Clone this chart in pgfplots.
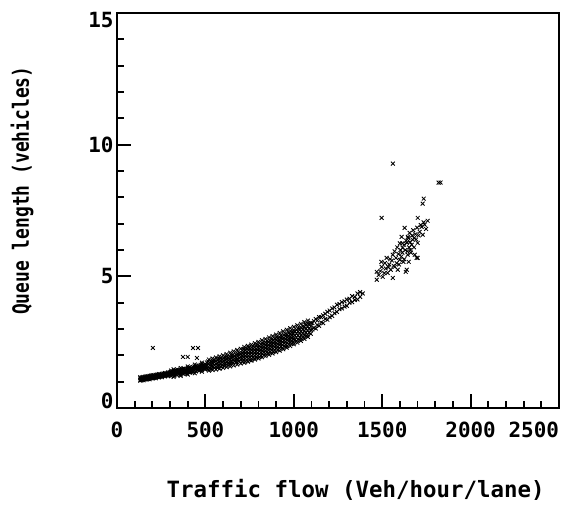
\documentclass[border=0pt]{standalone}
\usepackage{pgfplots}
\pgfplotsset{compat=1.18}
\usepackage{fontspec}
\setmainfont{DejaVu Sans Mono}
\begin{document}
\begin{tikzpicture}
\useasboundingbox (-117bp,-98bp) rectangle (450bp,408bp);
\begin{axis}[
  at={(0,0)}, anchor=south west,
  scale only axis, width=442bp, height=395bp,
  xmin=0, xmax=2500, ymin=0, ymax=15,
  xtick={0,500,1000,1500,2000,2500},
  xticklabels={0,500,1000,1500,2000,\llap{2500}},
  ytick={0,5,10,15},
  yticklabels={\smash{0},5,10,\raisebox{-14.6bp}[0pt][0pt]{15}},
  minor x tick num=4, minor y tick num=4,
  xtick pos=lower, ytick pos=left,
  tick align=inside,
  major tick length=14bp, minor tick length=7bp,
  every tick/.style={black, line width=1.8bp},
  axis line style={line width=2.2bp},
  scaled ticks=false,
  /pgf/number format/assume math mode=true,
  /pgf/number format/set thousands separator={},
  tick label style={font=\fontsize{21}{25}\selectfont\bfseries},
  xticklabel style={yshift=-10bp},
  xlabel={\fontsize{22.5}{26}\selectfont\bfseries Traffic flow (Veh/hour/lane)},
  ylabel={\scalebox{0.8}[1]{\fontsize{22.5}{26}\selectfont\bfseries Queue length (vehicles)}},
  xlabel style={at={(axis description cs:0.54,-0.208)}, anchor=center},
  ylabel style={at={(axis description cs:-0.215,0.55)}, anchor=center},
]
\addplot[only marks, mark=x, mark size=2.7bp, color=black, mark options={line width=0.85bp}] coordinates {
(132,1.04)(132,1.08)(132,1.13)(132,1.17)(141,1.06)(141,1.11)(141,1.16)
(150,1.05)(150,1.09)(150,1.13)(150,1.18)(158,1.09)(158,1.15)(158,1.19)
(167,1.08)(167,1.12)(167,1.17)(167,1.21)(175,1.10)(175,1.15)(175,1.20)
(184,1.09)(184,1.13)(184,1.17)(184,1.22)(193,1.13)(193,1.19)(193,1.23)
(201,1.12)(201,1.16)(201,1.21)(201,1.25)(210,1.14)(210,1.19)(210,1.24)
(219,1.13)(219,1.17)(219,1.21)(219,1.26)(228,1.17)(228,1.23)(228,1.27)
(236,1.16)(236,1.20)(236,1.25)(236,1.29)(245,1.18)(245,1.23)(245,1.28)
(254,1.17)(254,1.21)(254,1.25)(254,1.30)(263,1.21)(263,1.27)(263,1.31)
(271,1.20)(271,1.24)(271,1.29)(271,1.33)(280,1.22)(280,1.27)(280,1.32)
(289,1.22)(289,1.26)(289,1.30)(289,1.35)(298,1.26)(298,1.32)(298,1.36)
(306,1.21)(306,1.29)(306,1.36)(306,1.42)(315,1.25)(315,1.32)(315,1.39)
(324,1.22)(324,1.28)(324,1.34)(324,1.41)(333,1.28)(333,1.38)(333,1.44)
(341,1.25)(341,1.33)(341,1.40)(341,1.46)(350,1.29)(350,1.36)(350,1.43)
(359,1.26)(359,1.32)(359,1.38)(359,1.45)(368,1.32)(368,1.42)(368,1.48)
(376,1.29)(376,1.37)(376,1.44)(376,1.50)(385,1.33)(385,1.40)(385,1.47)
(394,1.30)(394,1.36)(394,1.42)(394,1.49)(403,1.36)(403,1.46)(403,1.52)
(411,1.34)(411,1.42)(411,1.49)(411,1.55)(420,1.38)(420,1.45)(420,1.52)
(429,1.36)(429,1.42)(429,1.48)(429,1.55)(438,1.42)(438,1.52)(438,1.58)
(446,1.39)(446,1.47)(446,1.54)(446,1.60)(455,1.44)(455,1.51)(455,1.58)
(464,1.41)(464,1.47)(464,1.53)(464,1.60)(473,1.48)(473,1.58)(473,1.64)
(481,1.45)(481,1.53)(481,1.60)(481,1.66)(490,1.49)(490,1.56)(490,1.63)
(499,1.47)(499,1.53)(499,1.59)(499,1.66)
(320,1.18)(320,1.47)(360,1.22)(360,1.52)(400,1.27)(400,1.58)
(440,1.32)(440,1.65)(480,1.38)(480,1.72)
(508,1.50)(508,1.64)(508,1.73)(516,1.47)(516,1.57)(516,1.68)(516,1.77)
(525,1.51)(525,1.62)(525,1.73)(534,1.48)(534,1.57)(534,1.66)(534,1.77)
(543,1.56)(543,1.70)(543,1.79)(551,1.52)(551,1.62)(551,1.73)(551,1.82)
(560,1.57)(560,1.68)(560,1.79)(569,1.53)(569,1.62)(569,1.71)(569,1.82)
(578,1.62)(578,1.76)(578,1.85)(586,1.58)(586,1.68)(586,1.79)(586,1.88)
(595,1.63)(595,1.74)(595,1.85)(604,1.60)(604,1.69)(604,1.78)(604,1.89)
(613,1.69)(613,1.83)(613,1.92)(621,1.65)(621,1.75)(621,1.86)(621,1.95)
(630,1.70)(630,1.81)(630,1.92)(639,1.67)(639,1.76)(639,1.85)(639,1.96)
(648,1.76)(648,1.90)(648,1.99)(656,1.72)(656,1.82)(656,1.93)(656,2.02)
(665,1.77)(665,1.88)(665,1.99)(674,1.74)(674,1.83)(674,1.92)(674,2.03)
(683,1.83)(683,1.97)(683,2.06)(691,1.79)(691,1.89)(691,2.00)(691,2.09)
(700,1.84)(700,1.95)(700,2.06)
(709,1.76)(709,1.87)(709,1.97)(709,2.07)(709,2.19)
(717,1.82)(717,1.93)(717,2.04)(717,2.14)(717,2.23)
(726,1.77)(726,1.88)(726,1.99)(726,2.09)(726,2.20)
(735,1.82)(735,1.93)(735,2.03)(735,2.13)(735,2.25)
(744,1.88)(744,1.99)(744,2.10)(744,2.20)(744,2.29)
(752,1.82)(752,1.93)(752,2.04)(752,2.14)(752,2.25)
(761,1.87)(761,1.98)(761,2.08)(761,2.18)(761,2.30)
(770,1.93)(770,2.04)(770,2.15)(770,2.25)(770,2.34)
(779,1.88)(779,1.99)(779,2.10)(779,2.20)(779,2.31)
(787,1.93)(787,2.04)(787,2.14)(787,2.24)(787,2.36)
(796,1.99)(796,2.10)(796,2.21)(796,2.31)(796,2.40)
(805,1.94)(805,2.05)(805,2.16)(805,2.26)(805,2.37)
(814,1.99)(814,2.10)(814,2.20)(814,2.30)(814,2.42)
(822,2.05)(822,2.16)(822,2.27)(822,2.37)(822,2.46)
(831,2.01)(831,2.12)(831,2.23)(831,2.33)(831,2.44)
(840,2.06)(840,2.17)(840,2.27)(840,2.37)(840,2.49)
(849,2.13)(849,2.24)(849,2.35)(849,2.45)(849,2.54)
(857,2.08)(857,2.19)(857,2.30)(857,2.40)(857,2.51)
(866,2.13)(866,2.24)(866,2.34)(866,2.44)(866,2.56)
(875,2.20)(875,2.31)(875,2.42)(875,2.52)(875,2.61)
(884,2.15)(884,2.26)(884,2.37)(884,2.47)(884,2.58)
(892,2.20)(892,2.31)(892,2.41)(892,2.51)(892,2.63)
(901,2.26)(901,2.37)(901,2.48)(901,2.58)(901,2.67)
(910,2.22)(910,2.33)(910,2.44)(910,2.54)(910,2.65)
(919,2.27)(919,2.38)(919,2.48)(919,2.58)(919,2.70)
(927,2.34)(927,2.45)(927,2.56)(927,2.66)(927,2.75)
(936,2.29)(936,2.40)(936,2.51)(936,2.61)(936,2.72)
(945,2.35)(945,2.46)(945,2.56)(945,2.66)(945,2.78)
(954,2.41)(954,2.52)(954,2.63)(954,2.73)(954,2.82)
(962,2.36)(962,2.47)(962,2.58)(962,2.68)(962,2.79)
(971,2.42)(971,2.53)(971,2.63)(971,2.73)(971,2.85)
(980,2.49)(980,2.60)(980,2.71)(980,2.81)(980,2.90)
(989,2.45)(989,2.56)(989,2.67)(989,2.77)(989,2.88)
(997,2.50)(997,2.61)(997,2.71)(997,2.81)(997,2.93)
(520,1.42)(520,1.84)(540,1.44)(540,1.88)(560,1.46)(560,1.92)
(580,1.49)(580,1.96)(600,1.52)(600,2.00)(620,1.55)(620,2.05)
(640,1.58)(640,2.10)(660,1.62)(660,2.15)(680,1.65)(680,2.20)
(700,1.69)(700,2.25)(720,1.72)(720,2.32)(740,1.76)(740,2.36)
(760,1.80)(760,2.41)(780,1.84)(780,2.46)(800,1.88)(800,2.51)
(820,1.93)(820,2.57)(840,1.97)(840,2.62)(860,2.02)(860,2.68)
(880,2.07)(880,2.73)(900,2.12)(900,2.79)(920,2.18)(920,2.85)
(940,2.23)(940,2.91)(960,2.29)(960,2.97)(980,2.35)(980,3.03)
(1000,2.42)(1000,3.08)(1020,2.48)(1020,3.14)(1040,2.55)(1040,3.20)
(1060,2.62)(1060,3.26)(1080,2.70)(1080,3.32)
(1006,2.59)(1006,2.76)(1006,2.92)(1015,2.55)(1015,2.69)(1015,2.83)(1015,2.97)
(1024,2.60)(1024,2.75)(1024,2.90)(1024,3.02)(1033,2.68)(1033,2.85)(1033,3.01)
(1042,2.64)(1042,2.78)(1042,2.92)(1042,3.06)(1051,2.68)(1051,2.83)(1051,2.98)(1051,3.10)
(1060,2.76)(1060,2.93)(1060,3.09)(1069,2.73)(1069,2.87)(1069,3.01)(1069,3.15)
(1078,2.78)(1078,2.93)(1078,3.08)(1078,3.20)(1087,2.86)(1087,3.03)(1087,3.19)
(1096,2.82)(1096,2.96)(1096,3.10)(1096,3.24)
(1105,2.98)(1105,3.22)(1114,3.05)(1114,3.30)(1124,3.02)(1124,3.38)
(1133,3.15)(1133,3.32)(1143,3.12)(1143,3.45)(1155,3.25)(1155,3.45)
(1166,3.22)(1166,3.52)(1178,3.38)(1178,3.58)(1190,3.35)(1190,3.65)
(1203,3.45)(1203,3.70)(1217,3.50)(1217,3.78)(1230,3.60)(1230,3.82)
(1244,3.65)(1244,3.92)(1258,3.75)(1258,3.95)(1272,3.78)(1272,4.02)
(1287,3.85)(1287,4.05)(1300,3.88)(1300,4.12)(1315,4.00)(1315,4.15)
(1330,4.02)(1330,4.25)(1345,4.10)(1345,4.22)(1360,4.12)(1360,4.35)
(1375,4.22)(1375,4.40)(1390,4.35)
(1469,4.87)(1469,5.17)(1480,5.05)(1490,5.20)(1497,5.36)(1503,4.98)(1512,5.12)
(1520,5.30)(1525,5.70)(1531,5.13)(1540,5.45)(1548,5.25)(1555,5.60)
(1560,4.94)(1560,5.82)(1565,5.40)(1571,5.36)(1578,5.70)(1582,5.50)
(1588,5.25)(1592,5.85)(1599,5.63)(1603,6.00)(1608,5.75)(1610,6.50)
(1614,5.90)(1616,6.08)(1620,5.55)(1624,6.20)(1627,6.84)(1630,6.00)
(1633,5.17)(1636,6.35)(1639,6.27)(1642,5.95)(1644,5.82)(1648,6.45)
(1652,6.10)(1655,6.65)(1658,6.30)(1662,5.90)(1667,6.20)(1670,6.55)
(1672,6.39)(1676,6.75)(1680,6.10)(1684,5.82)(1688,6.60)(1692,6.40)
(1695,5.70)(1698,6.85)(1701,6.27)(1706,6.55)(1712,6.69)(1718,6.95)
(1723,6.88)(1729,6.58)(1734,7.05)(1740,6.96)(1748,6.80)(1757,7.11)
(1701,7.22)(1729,7.76)(1735,7.95)(1819,8.56)(1830,8.56)(1560,9.28)
(1497,7.22)(1495,5.55)(1515,5.50)(1535,5.35)(1545,5.65)(1570,5.95)
(1585,6.10)(1600,6.25)(1595,5.45)(1625,5.65)(1650,5.55)(1660,6.00)
(1614,6.25)(1645,6.50)(1680,6.45)(1639,5.25)(1701,5.70)
(203,2.28)(373,1.94)(400,1.94)(430,2.28)(458,2.28)(452,1.90)
};
\end{axis}
\end{tikzpicture}
\end{document}
